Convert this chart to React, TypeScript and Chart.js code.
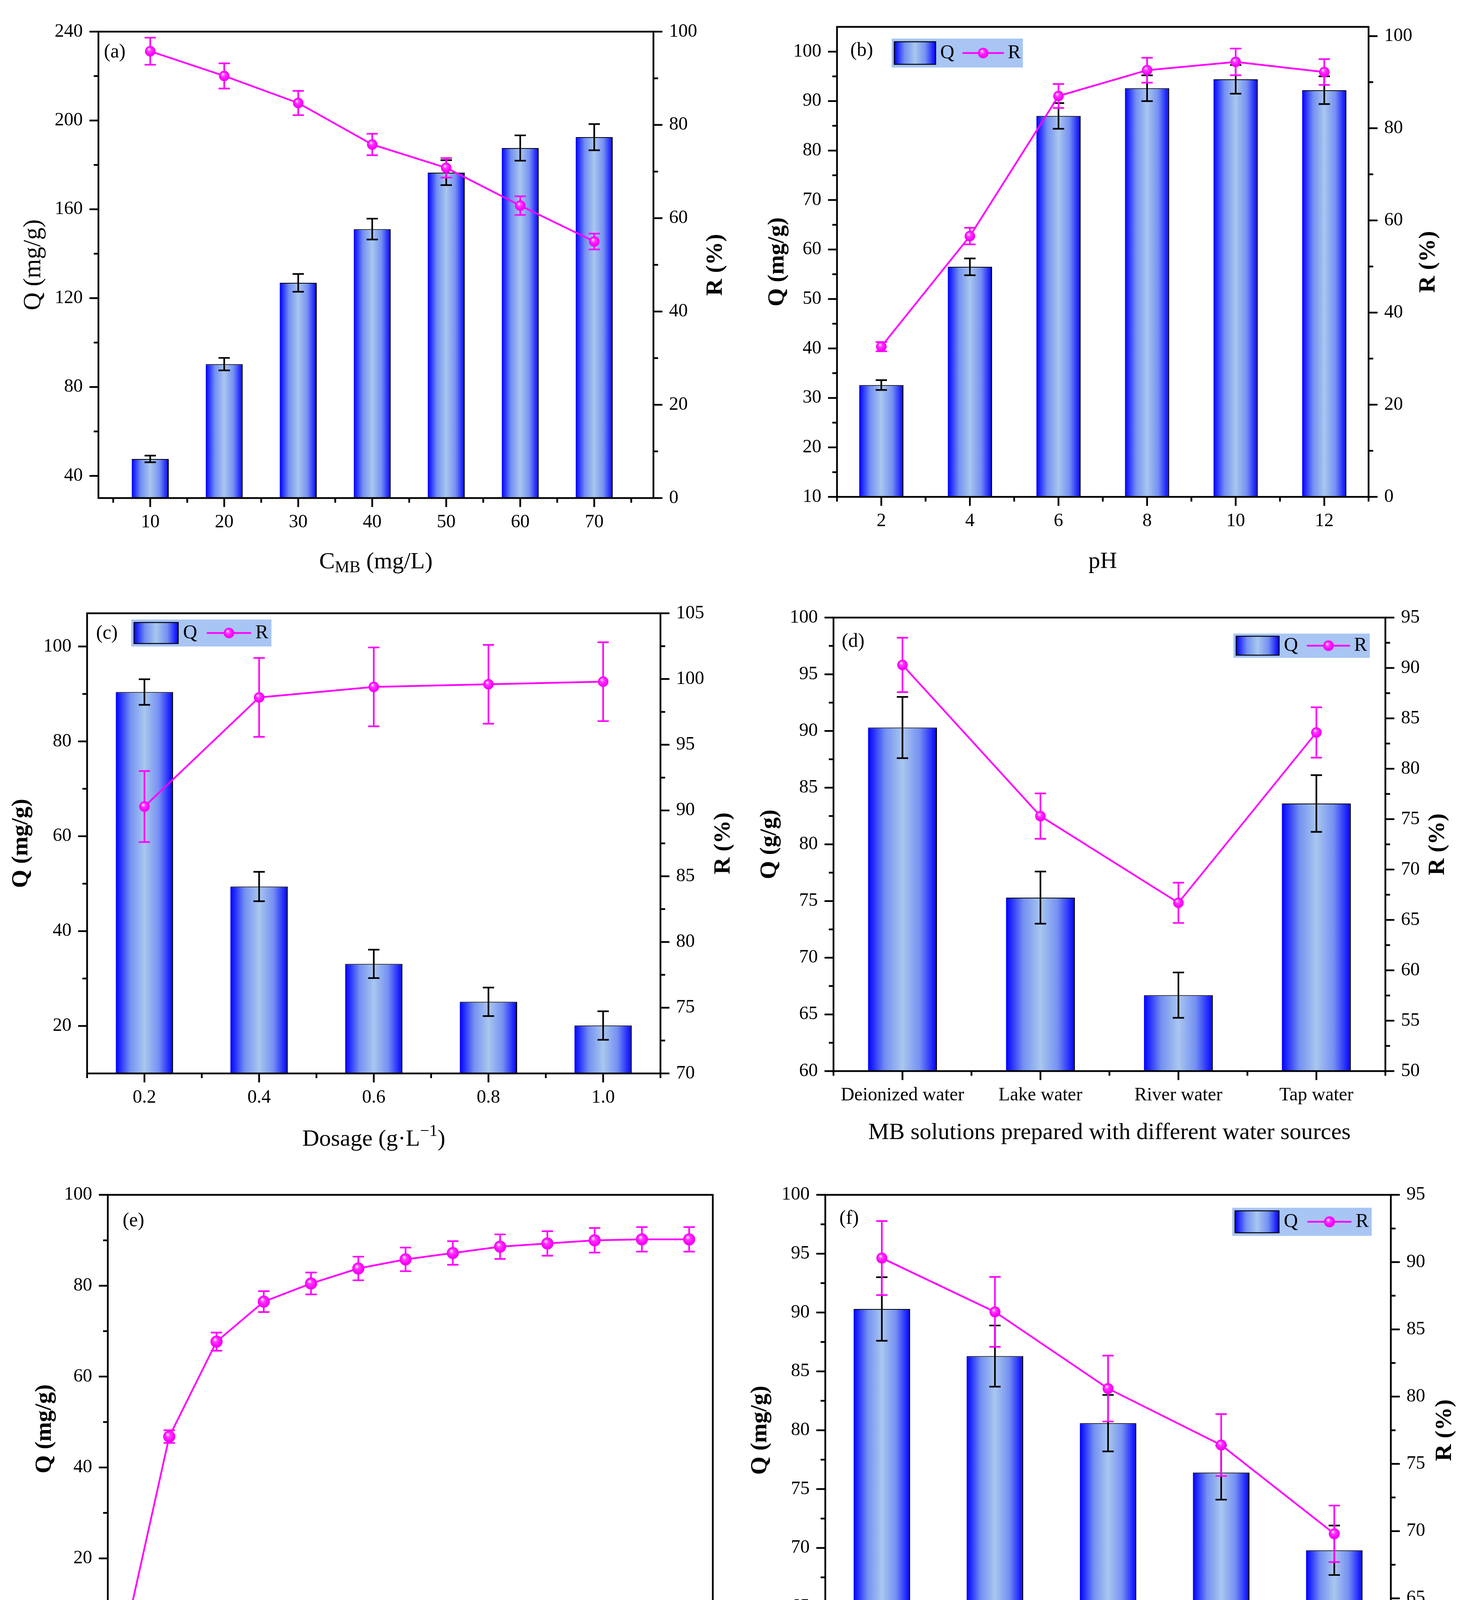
import { useEffect, useRef } from 'react';
import { Chart, registerables } from 'chart.js';

Chart.register(...registerables);

const SERIF = "'Liberation Serif', 'Times New Roman', serif";
const MAGENTA = '#ff00ff';
const LEGEND_BG = '#a8c5f4';
const BAR_LIGHT = '#a9c7ee';

// (a) initial MB concentration
const concX = [10, 20, 30, 40, 50, 60, 70];
const concMinorX = [5, 15, 25, 35, 45, 55, 65, 75];
const concQ = [47.6, 90.3, 126.9, 151.1, 176.5, 187.6, 192.5];
const concQErr = [1.5, 2.8, 4.0, 4.7, 5.6, 5.7, 5.9];
const concR = [95.8, 90.5, 84.7, 75.8, 70.8, 62.7, 55.0];
const concRErr = [2.9, 2.7, 2.6, 2.3, 2.1, 2.0, 1.7];
const concTicksQ = [40, 80, 120, 160, 200, 240];
const concMinorQ = [60, 100, 140, 180, 220];
const concTicksR = [0, 20, 40, 60, 80, 100];
const concMinorR = [10, 30, 50, 70, 90];

// (b) pH
const phX = [2, 4, 6, 8, 10, 12];
const phMinorX = [1, 3, 5, 7, 9, 11, 13];
const phQ = [32.6, 56.5, 87.0, 92.6, 94.4, 92.2];
const phQErr = [1.0, 1.7, 2.6, 2.6, 2.9, 2.8];
const phR = [32.6, 56.6, 87.0, 92.6, 94.4, 92.2];
const phRErr = [1.0, 1.8, 2.6, 2.7, 2.9, 2.8];
const phTicksQ = [10, 20, 30, 40, 50, 60, 70, 80, 90, 100];
const phMinorQ = [15, 25, 35, 45, 55, 65, 75, 85, 95];
const phTicksR = [0, 20, 40, 60, 80, 100];
const phMinorR = [10, 30, 50, 70, 90];

// (c) adsorbent dosage
const doseX = [0.2, 0.4, 0.6, 0.8, 1.0];
const doseMinorX = [0.1, 0.3, 0.5, 0.7, 0.9, 1.1];
const doseQ = [90.4, 49.4, 33.1, 25.1, 20.1];
const doseQErr = [2.7, 3.1, 3.0, 3.0, 3.0];
const doseR = [90.3, 98.6, 99.4, 99.6, 99.8];
const doseRErr = [2.7, 3.0, 3.0, 3.0, 3.0];
const doseTicksQ = [20, 40, 60, 80, 100];
const doseMinorQ = [30, 50, 70, 90];
const doseTicksR = [70, 75, 80, 85, 90, 95, 100, 105];
const doseMinorR = [72.5, 77.5, 82.5, 87.5, 92.5, 97.5, 102.5];

// (d) water sources
const waterLabels = ['Deionized water', 'Lake water', 'River water', 'Tap water'];
const waterX = [1, 2, 3, 4];
const waterMinorX = [0.5, 1.5, 2.5, 3.5, 4.5];
const waterQ = [90.3, 75.3, 66.7, 83.6];
const waterQErr = [2.7, 2.3, 2.0, 2.5];
const waterR = [90.3, 75.3, 66.7, 83.6];
const waterRErr = [2.7, 2.25, 2.0, 2.5];
const waterTicksQ = [60, 65, 70, 75, 80, 85, 90, 95, 100];
const waterMinorQ = [62.5, 67.5, 72.5, 77.5, 82.5, 87.5, 92.5, 97.5];
const waterTicksR = [50, 55, 60, 65, 70, 75, 80, 85, 90, 95];
const waterMinorR = [52.5, 57.5, 62.5, 67.5, 72.5, 77.5, 82.5, 87.5, 92.5];

// (e) contact time
const timeX = [0, 10, 20, 30, 40, 50, 60, 70, 80, 90, 100, 110, 120];
const timeQ = [0, 46.8, 67.7, 76.5, 80.5, 83.8, 85.8, 87.2, 88.6, 89.3, 90.0, 90.2, 90.2];
const timeQErr = [0, 1.4, 2.0, 2.3, 2.4, 2.6, 2.6, 2.6, 2.7, 2.7, 2.7, 2.7, 2.7];
const timeTicksX = [0, 20, 40, 60, 80, 100, 120];
const timeMinorX = [10, 30, 50, 70, 90, 110];
const timeTicksQ = [0, 20, 40, 60, 80, 100];
const timeMinorQ = [10, 30, 50, 70, 90];

// (f) regeneration cycles
const cycleX = [1, 2, 3, 4, 5];
const cycleMinorX = [0.5, 1.5, 2.5, 3.5, 4.5, 5.5];
const cycleQ = [90.3, 86.3, 80.6, 76.4, 69.8];
const cycleQErr = [2.7, 2.6, 2.4, 2.3, 2.1];
const cycleR = [90.3, 86.3, 80.6, 76.4, 69.8];
const cycleRErr = [2.75, 2.6, 2.45, 2.3, 2.1];
const cycleTicksQ = [60, 65, 70, 75, 80, 85, 90, 95, 100];
const cycleMinorQ = [62.5, 67.5, 72.5, 77.5, 82.5, 87.5, 92.5, 97.5];
const cycleTicksR = [60, 65, 70, 75, 80, 85, 90, 95];
const cycleMinorR = [62.5, 67.5, 72.5, 77.5, 82.5, 87.5, 92.5];

type Seg = { text: string; shift?: 'sub' | 'sup' };
interface AxisSpec {
  min: number;
  max: number;
  major: number[];
  minor: number[];
  fmt?: (v: number) => string;
}
interface Series {
  x: number[];
  v: number[];
  err: number[];
}
interface Panel {
  key: string;
  label: string;
  canvas: { left: number; top: number; width: number; height: number };
  area: { left: number; top: number; right: number; bottom: number };
  x: AxisSpec;
  y: AxisSpec;
  y1?: AxisSpec;
  xTitle: Seg[];
  yTitle: string;
  yTitleFont?: string;
  y1Title?: string;
  gaps: { x: number; y: number; y1: number };
  labelAt: [number, number];
  bars?: Series & { step: number };
  line: Series & { axis: 'y' | 'y1' };
  legend?: { x: number; y: number; w: number; h: number };
  markerR: number;
}

const panels: Panel[] = [
  {
    key: 'a',
    label: '(a)',
    canvas: { left: 0, top: 0, width: 1878, height: 1494 },
    area: { left: 252, top: 81, right: 1673, bottom: 1275 },
    x: { min: 3, max: 78, major: concX, minor: concMinorX },
    y: { min: 30, max: 240, major: concTicksQ, minor: concMinorQ },
    y1: { min: 0, max: 100, major: concTicksR, minor: concMinorR },
    xTitle: [{ text: 'C' }, { text: 'MB', shift: 'sub' }, { text: ' (mg/L)' }],
    yTitle: 'Q (mg/g)',
    yTitleFont: `63px ${SERIF}`,
    y1Title: 'R (%)',
    gaps: { x: 180, y: 166, y1: 159 },
    labelAt: [14, 53],
    bars: { x: concX, v: concQ, err: concQErr, step: 10 },
    line: { x: concX, v: concR, err: concRErr, axis: 'y1' },
    markerR: 13.5,
  },
  {
    key: 'b',
    label: '(b)',
    canvas: { left: 1878, top: 0, width: 1878, height: 1494 },
    area: { left: 2143, top: 68, right: 3504, bottom: 1272 },
    x: { min: 1, max: 13, major: phX, minor: phMinorX },
    y: { min: 10, max: 105, major: phTicksQ, minor: phMinorQ },
    y1: { min: 0, max: 102, major: phTicksR, minor: phMinorR },
    xTitle: [{ text: 'pH' }],
    yTitle: 'Q (mg/g)',
    y1Title: 'R (%)',
    gaps: { x: 182, y: 153, y1: 153 },
    labelAt: [34, 61],
    bars: { x: phX, v: phQ, err: phQErr, step: 2 },
    line: { x: phX, v: phR, err: phRErr, axis: 'y1' },
    legend: { x: 140, y: 30, w: 336, h: 74 },
    markerR: 13.5,
  },
  {
    key: 'c',
    label: '(c)',
    canvas: { left: 0, top: 1494, width: 1878, height: 1496 },
    area: { left: 223, top: 1570, right: 1691, bottom: 2748 },
    x: { min: 0.1, max: 1.1, major: doseX, minor: doseMinorX, fmt: (v) => v.toFixed(1) },
    y: { min: 10, max: 107, major: doseTicksQ, minor: doseMinorQ },
    y1: { min: 70, max: 105, major: doseTicksR, minor: doseMinorR },
    xTitle: [{ text: 'Dosage (g·L' }, { text: '−1', shift: 'sup' }, { text: ')' }],
    yTitle: 'Q (mg/g)',
    y1Title: 'R (%)',
    gaps: { x: 185, y: 169, y1: 161 },
    labelAt: [23, 52],
    bars: { x: doseX, v: doseQ, err: doseQErr, step: 0.2 },
    line: { x: doseX, v: doseR, err: doseRErr, axis: 'y1' },
    legend: { x: 113, y: 16, w: 359, h: 69 },
    markerR: 13.5,
  },
  {
    key: 'd',
    label: '(d)',
    canvas: { left: 1878, top: 1494, width: 1878, height: 1496 },
    area: { left: 2134, top: 1581, right: 3547, bottom: 2742 },
    x: { min: 0.5, max: 4.5, major: waterX, minor: waterMinorX, fmt: (v) => waterLabels[Math.round(v) - 1] ?? '' },
    y: { min: 60, max: 100, major: waterTicksQ, minor: waterMinorQ },
    y1: { min: 50, max: 95, major: waterTicksR, minor: waterMinorR },
    xTitle: [{ text: 'MB solutions prepared with different water sources' }],
    yTitle: 'Q (g/g)',
    y1Title: 'R (%)',
    gaps: { x: 174, y: 164, y1: 134 },
    labelAt: [21, 62],
    bars: { x: waterX, v: waterQ, err: waterQErr, step: 1 },
    line: { x: waterX, v: waterR, err: waterRErr, axis: 'y1' },
    legend: { x: 1024, y: 41, w: 349, h: 62 },
    markerR: 13.5,
  },
  {
    key: 'e',
    label: '(e)',
    canvas: { left: 0, top: 2990, width: 1878, height: 1499 },
    area: { left: 276, top: 3037, right: 1825, bottom: 4257 },
    x: { min: -3, max: 125, major: timeTicksX, minor: timeMinorX },
    y: { min: -3, max: 100, major: timeTicksQ, minor: timeMinorQ },
    xTitle: [{ text: 't (min)' }],
    yTitle: 'Q (mg/g)',
    gaps: { x: 181, y: 162, y1: 0 },
    labelAt: [38, 67],
    line: { x: timeX, v: timeQ, err: timeQErr, axis: 'y' },
    markerR: 15.5,
  },
  {
    key: 'f',
    label: '(f)',
    canvas: { left: 1878, top: 2990, width: 1878, height: 1499 },
    area: { left: 2113, top: 3035, right: 3561, bottom: 4264 },
    x: { min: 0.5, max: 5.5, major: cycleX, minor: cycleMinorX },
    y: { min: 60, max: 100, major: cycleTicksQ, minor: cycleMinorQ },
    y1: { min: 60, max: 95, major: cycleTicksR, minor: cycleMinorR },
    xTitle: [{ text: 'Cycles' }],
    yTitle: 'Q (mg/g)',
    y1Title: 'R (%)',
    gaps: { x: 181, y: 167, y1: 138 },
    labelAt: [36, 61],
    bars: { x: cycleX, v: cycleQ, err: cycleQErr, step: 1 },
    line: { x: cycleX, v: cycleR, err: cycleRErr, axis: 'y1' },
    legend: { x: 1042, y: 33, w: 357, h: 72 },
    markerR: 14,
  },
];

function barStops(g: CanvasGradient) {
  g.addColorStop(0, '#0000ff');
  g.addColorStop(0.25, '#7390f2');
  g.addColorStop(0.5, '#a9c7ee');
  g.addColorStop(0.75, '#7590f3');
  g.addColorStop(1, '#0000ff');
}

function makeSphere(r: number) {
  const c = document.createElement('canvas');
  const s = Math.ceil(r * 2 + 2);
  c.width = s;
  c.height = s;
  const g = c.getContext('2d')!;
  const m = s / 2;
  const grad = g.createRadialGradient(m - r * 0.3, m - r * 0.4, 0, m, m, r);
  grad.addColorStop(0, '#ffffff');
  grad.addColorStop(0.12, '#ffc8ff');
  grad.addColorStop(0.35, '#ff3cff');
  grad.addColorStop(0.8, '#ff00ff');
  grad.addColorStop(1, '#e800e8');
  g.fillStyle = grad;
  g.beginPath();
  g.arc(m, m, r, 0, Math.PI * 2);
  g.fill();
  return c;
}

function drawErrorBars(chart: any, meta: any, errs: number[], color: string) {
  const ctx = chart.ctx;
  const ys = meta.vScale;
  const data = chart.data.datasets[meta.index].data;
  ctx.save();
  ctx.strokeStyle = color;
  ctx.lineWidth = 4.2;
  ctx.beginPath();
  meta.data.forEach((el: any, i: number) => {
    const e = errs[i];
    if (!e) return;
    const v = data[i].y;
    const top = ys.getPixelForValue(v + e);
    const bot = ys.getPixelForValue(v - e);
    const cap = 14.5;
    ctx.moveTo(el.x, top);
    ctx.lineTo(el.x, bot);
    ctx.moveTo(el.x - cap, top);
    ctx.lineTo(el.x + cap, top);
    ctx.moveTo(el.x - cap, bot);
    ctx.lineTo(el.x + cap, bot);
  });
  ctx.stroke();
  ctx.restore();
}

function tickMarks(ctx: CanvasRenderingContext2D, scale: any, spec: AxisSpec, side: string, a: any) {
  const draw = (vals: number[], len: number) => {
    ctx.beginPath();
    for (const v of vals) {
      const px = scale.getPixelForValue(v);
      if (side === 'bottom') {
        ctx.moveTo(px, a.bottom);
        ctx.lineTo(px, a.bottom + len);
      } else if (side === 'left') {
        ctx.moveTo(a.left, px);
        ctx.lineTo(a.left - len, px);
      } else {
        ctx.moveTo(a.right, px);
        ctx.lineTo(a.right + len, px);
      }
    }
    ctx.stroke();
  };
  draw(spec.major, 23);
  draw(spec.minor, 12);
}

function drawRich(ctx: CanvasRenderingContext2D, segs: Seg[], cx: number, baseY: number, size: number) {
  const parts = segs.map((s) => {
    const sz = s.shift ? size * 0.7 : size;
    ctx.font = `${sz}px ${SERIF}`;
    return { s, sz, w: ctx.measureText(s.text).width };
  });
  const total = parts.reduce((acc, p) => acc + p.w, 0);
  let x = cx - total / 2;
  ctx.textAlign = 'left';
  ctx.textBaseline = 'alphabetic';
  for (const p of parts) {
    ctx.font = `${p.sz}px ${SERIF}`;
    const dy = p.s.shift === 'sub' ? size * 0.17 : p.s.shift === 'sup' ? -size * 0.42 : 0;
    ctx.fillText(p.s.text, x, baseY + dy);
    x += p.w;
  }
}

function drawVertical(ctx: CanvasRenderingContext2D, text: string, x: number, y: number, font: string) {
  ctx.save();
  ctx.translate(x, y);
  ctx.rotate(-Math.PI / 2);
  ctx.font = font;
  ctx.textAlign = 'center';
  ctx.textBaseline = 'middle';
  ctx.fillText(text, 0, 0);
  ctx.restore();
}

function barFill(c: any, step: number) {
  const chart = c.chart;
  const xs = chart.scales?.x;
  const xv = c.raw?.x;
  if (c.type !== 'data' || !xs || !chart.chartArea || typeof xv !== 'number') return BAR_LIGHT;
  const cx = xs.getPixelForValue(xv);
  const half = Math.abs(xs.getPixelForValue(xv + step) - cx) * 0.25;
  if (!Number.isFinite(cx) || !Number.isFinite(half) || half <= 0) return BAR_LIGHT;
  const g = chart.ctx.createLinearGradient(cx - half, 0, cx + half, 0);
  barStops(g);
  return g;
}

function makeDecor(p: Panel, sphere: HTMLCanvasElement) {
  const boldTitle = `bold 60px ${SERIF}`;
  return {
    id: 'decor',
    beforeDatasetDraw(chart: any, args: any) {
      const ds = chart.data.datasets[args.index];
      if (ds.type === 'line') drawErrorBars(chart, args.meta, ds.errs, MAGENTA);
    },
    afterDatasetDraw(chart: any, args: any) {
      const ds = chart.data.datasets[args.index];
      if (ds.type === 'bar') drawErrorBars(chart, args.meta, ds.errs, '#000');
    },
    afterDraw(chart: any) {
      const { ctx, chartArea: a, scales } = chart;
      ctx.save();
      ctx.strokeStyle = '#000';
      ctx.lineWidth = 4.5;
      tickMarks(ctx, scales.x, p.x, 'bottom', a);
      tickMarks(ctx, scales.y, p.y, 'left', a);
      if (p.y1) tickMarks(ctx, scales.y1, p.y1, 'right', a);
      ctx.strokeRect(a.left, a.top, a.width, a.height);

      ctx.fillStyle = '#000';
      const midX = (a.left + a.right) / 2;
      const midY = (a.top + a.bottom) / 2;
      drawRich(ctx, p.xTitle, midX, a.bottom + p.gaps.x, 60);
      drawVertical(ctx, p.yTitle, a.left - p.gaps.y, midY, p.yTitleFont ?? boldTitle);
      if (p.y1Title) drawVertical(ctx, p.y1Title, a.right + p.gaps.y1, midY, boldTitle);

      ctx.font = `50px ${SERIF}`;
      ctx.textAlign = 'left';
      ctx.textBaseline = 'middle';
      ctx.fillText(p.label, a.left + p.labelAt[0], a.top + p.labelAt[1]);

      if (p.legend) {
        const lg = p.legend;
        const bx = a.left + lg.x;
        const by = a.top + lg.y;
        const cy = by + lg.h / 2;
        ctx.fillStyle = LEGEND_BG;
        ctx.fillRect(bx, by, lg.w, lg.h);
        const sx0 = bx + lg.w * 0.02;
        const sx1 = bx + lg.w * 0.335;
        const sy0 = by + lg.h * 0.11;
        const sy1 = by + lg.h * 0.89;
        const g = ctx.createLinearGradient(sx0, 0, sx1, 0);
        barStops(g);
        ctx.fillStyle = g;
        ctx.fillRect(sx0, sy0, sx1 - sx0, sy1 - sy0);
        ctx.lineWidth = 2.5;
        ctx.strokeStyle = '#000';
        ctx.strokeRect(sx0, sy0, sx1 - sx0, sy1 - sy0);
        const [barSet, lineSet] = chart.data.datasets;
        ctx.fillStyle = '#000';
        ctx.font = `50px ${SERIF}`;
        ctx.fillText(barSet.label, bx + lg.w * 0.37, cy);
        const lx0 = bx + lg.w * 0.539;
        const lx1 = bx + lg.w * 0.855;
        ctx.strokeStyle = MAGENTA;
        ctx.lineWidth = 4.5;
        ctx.beginPath();
        ctx.moveTo(lx0, cy);
        ctx.lineTo(lx1, cy);
        ctx.stroke();
        ctx.drawImage(sphere, (lx0 + lx1) / 2 - sphere.width / 2, cy - sphere.height / 2);
        ctx.fillText(lineSet.label, bx + lg.w * 0.885, cy);
      }
      ctx.restore();
    },
  };
}

function buildConfig(p: Panel): any {
  const canvasRight = p.canvas.left + p.canvas.width;
  const canvasBottom = p.canvas.top + p.canvas.height;
  const leftW = p.area.left - p.canvas.left;
  const rightW = canvasRight - p.area.right;
  const bottomH = canvasBottom - p.area.bottom;
  const sphere = makeSphere(p.markerR);

  const axis = (spec: AxisSpec, position: string, size: number) => ({
    type: 'linear',
    position,
    min: spec.min,
    max: spec.max,
    bounds: 'data',
    offset: false,
    beginAtZero: false,
    grid: { display: false, drawTicks: false },
    border: { display: false },
    afterBuildTicks: (s: any) => {
      s.ticks = spec.major.map((value) => ({ value }));
    },
    afterFit: (s: any) => {
      if (position === 'bottom') s.height = size;
      else s.width = size;
    },
    ticks: {
      font: { family: SERIF, size: 48 },
      color: '#000',
      padding: position === 'bottom' ? 34 : 40,
      autoSkip: false,
      maxRotation: 0,
      minRotation: 0,
      callback: (v: any) => (spec.fmt ? spec.fmt(Number(v)) : String(v)),
    },
  });

  const scales: any = {
    x: axis(p.x, 'bottom', bottomH),
    y: axis(p.y, 'left', leftW),
  };
  if (p.y1) scales.y1 = axis(p.y1, 'right', rightW);

  const datasets: any[] = [];
  if (p.bars) {
    const bars = p.bars;
    datasets.push({
      type: 'bar',
      label: 'Q',
      yAxisID: 'y',
      order: 2,
      data: bars.x.map((x, i) => ({ x, y: bars.v[i] })),
      errs: bars.err,
      backgroundColor: (c: any) => barFill(c, bars.step),
      borderColor: '#000',
      borderWidth: { top: 2, right: 3, bottom: 0, left: 0 },
      borderSkipped: false,
      categoryPercentage: 1,
      barPercentage: 0.5,
    });
  }
  datasets.push({
    type: 'line',
    label: p.bars ? 'R' : 'Q',
    yAxisID: p.line.axis,
    order: 1,
    data: p.line.x.map((x, i) => ({ x, y: p.line.v[i] })),
    errs: p.line.err,
    borderColor: MAGENTA,
    backgroundColor: MAGENTA,
    borderWidth: 4.5,
    tension: 0,
    fill: false,
    pointStyle: sphere,
    pointRadius: p.markerR,
    pointHoverRadius: p.markerR,
  });

  return {
    type: 'bar',
    data: { datasets },
    options: {
      responsive: false,
      animation: false,
      events: [],
      layout: {
        padding: { top: p.area.top - p.canvas.top, right: p.y1 ? 0 : rightW, bottom: 0, left: 0 },
      },
      plugins: { legend: { display: false }, tooltip: { enabled: false } },
      scales,
    },
    plugins: [makeDecor(p, sphere)],
  };
}

function PanelChart({ panel }: { panel: Panel }) {
  const canvasRef = useRef<HTMLCanvasElement>(null);

  useEffect(() => {
    if (!canvasRef.current) return;
    const chart = new Chart(canvasRef.current, buildConfig(panel));
    return () => chart.destroy();
  }, [panel]);

  const c = panel.canvas;
  return (
    <div style={{ position: 'absolute', left: c.left, top: c.top, width: c.width, height: c.height }}>
      <canvas
        ref={canvasRef}
        width={c.width}
        height={c.height}
        style={{ display: 'block', width: c.width, height: c.height }}
      />
    </div>
  );
}

export default function App() {
  return (
    <div style={{ position: 'absolute', left: 0, top: 0, width: 3756, height: 4489, background: '#fff' }}>
      {panels.map((p) => (
        <PanelChart key={p.key} panel={p} />
      ))}
    </div>
  );
}
